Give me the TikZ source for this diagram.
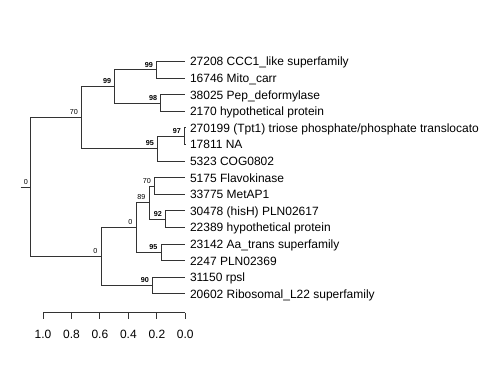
\documentclass[tikz,border=0pt]{standalone}
\usepackage{fontspec}
\setmainfont{Liberation Sans}
\usetikzlibrary{positioning}
\tikzset{
  branch/.style={draw=black!80, line width=0.9pt},
  tiplabel/.style={anchor=base west, inner sep=0pt, font=\fontsize{12}{14}\selectfont},
  support/.style={anchor=base east, inner sep=0pt, font=\fontsize{7.2}{8}\selectfont},
  strong/.style={support, font=\fontsize{7.2}{8}\selectfont\bfseries},
  ticklabel/.style={anchor=base, inner sep=0pt, font=\fontsize{12}{14}\selectfont}
}

\begin{document}
\begin{tikzpicture}[x=1pt, y=-1pt]
  \useasboundingbox (0,0) rectangle (480,384);
  \fill[white] (0,0) rectangle (480,384);

  % tips
  \foreach \i/\txt in {1/{27208 CCC1\_like superfamily}, 2/{16746 Mito\_carr},
      3/{38025 Pep\_deformylase}, 4/{2170 hypothetical protein},
      5/{270199 (Tpt1) triose phosphate/phosphate translocato}, 6/{17811 NA},
      7/{5323 COG0802}, 8/{5175 Flavokinase}, 9/{33775 MetAP1},
      10/{30478 (hisH) PLN02617}, 11/{22389 hypothetical protein},
      12/{23142 Aa\_trans superfamily}, 13/{2247 PLN02369}, 14/{31150 rpsl},
      15/{20602 Ribosomal\_L22 superfamily}} {
    \coordinate (t\i) at (185.3, {61.5+(\i-1)*16.6});
    \node[tiplabel] (lab\i) at ([xshift=4.5pt, yshift=-4.3pt]t\i) {\txt};
  }

  % internal nodes
  \coordinate (rootstub) at (20.7,187.0);
  \coordinate (root) at (30.7,187.0);
  \coordinate (n70a) at (81.7,117.5);
  \coordinate (n99a) at (114.7,86.4);
  \coordinate (n99b) at (156.3,69.8);
  \coordinate (n98) at (160.7,103.0);
  \coordinate (n95a) at (157.3,148.65);
  \coordinate (n97) at (184.5,136.2);
  \coordinate (n0a) at (101.0,256.55);
  \coordinate (n0b) at (136.0,227.5);
  \coordinate (n89) at (149.3,202.6);
  \coordinate (n70b) at (154.3,186.0);
  \coordinate (n92) at (165.0,219.2);
  \coordinate (n95b) at (161.0,252.4);
  \coordinate (n90) at (152.3,285.6);

  % branches
  \draw[branch] (rootstub) -- (root);
  \foreach \p/\c in {root/n70a, root/n0a,
      n70a/n99a, n70a/n95a, n99a/n99b, n99a/n98,
      n99b/t1, n99b/t2, n98/t3, n98/t4,
      n95a/n97, n95a/t7, n97/t5, n97/t6,
      n0a/n0b, n0a/n90, n0b/n89, n0b/n95b,
      n89/n70b, n89/n92, n70b/t8, n70b/t9, n92/t10, n92/t11,
      n95b/t12, n95b/t13, n90/t14, n90/t15} {
    \draw[branch] (\p) |- (\c);
  }

  % support values
  \node[support] (s0r) at ([xshift=-2.5pt, yshift=3pt]root) {0};
  \node[support] (s70a) at ([xshift=-3.6pt, yshift=2.8pt]n70a) {70};
  \node[strong] (s99a) at ([xshift=-3.3pt, yshift=2.8pt]n99a) {99};
  \node[strong] (s99b) at ([xshift=-3.3pt, yshift=2.8pt]n99b) {99};
  \node[strong] (s98) at ([xshift=-3.3pt, yshift=2.8pt]n98) {98};
  \node[strong] (s95a) at ([xshift=-3.3pt, yshift=2.8pt]n95a) {95};
  \node[strong] (s97) at ([xshift=-3.3pt, yshift=2.8pt]n97) {97};
  \node[support] (s0a) at ([xshift=-3.3pt, yshift=2.8pt]n0a) {0};
  \node[support] (s0b) at ([xshift=-3.3pt, yshift=2.8pt]n0b) {0};
  \node[support] (s89) at ([xshift=-3.6pt, yshift=2.8pt]n89) {89};
  \node[support] (s70b) at ([xshift=-3.3pt, yshift=2.8pt]n70b) {70};
  \node[strong] (s92) at ([xshift=-3pt, yshift=2.4pt]n92) {92};
  \node[strong] (s95b) at ([xshift=-3.3pt, yshift=2.8pt]n95b) {95};
  \node[strong] (s90) at ([xshift=-3.3pt, yshift=2.8pt]n90) {90};

  % scale axis
  \draw[branch] (43,312.7) -- (185.3,312.7);
  \foreach \x/\lab in {43/1.0, 71.5/0.8, 99.9/0.6, 128.4/0.4, 156.9/0.2, 185.3/0.0} {
    \draw[branch] (\x,312.7) -- ++(0,6);
    \node[ticklabel] at (\x,338) {\lab};
  }
\end{tikzpicture}
\end{document}
